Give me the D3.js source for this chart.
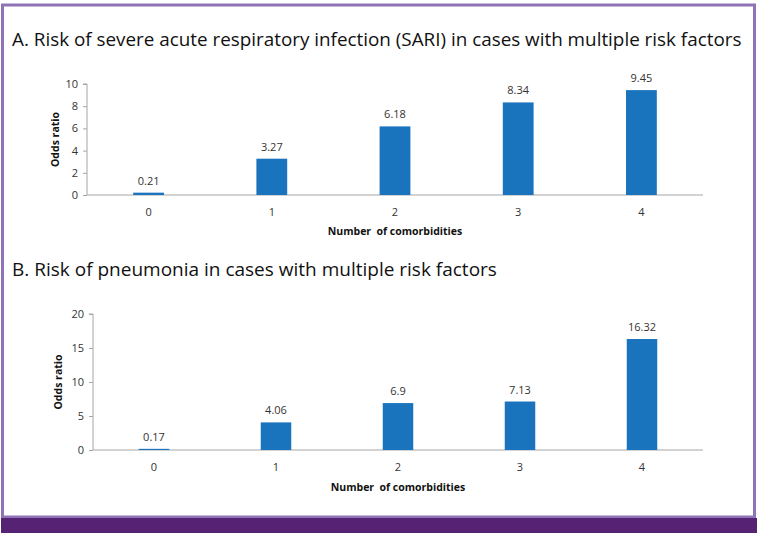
<!DOCTYPE html>
<html><head><meta charset="utf-8">
<script src="https://cdn.jsdelivr.net/npm/d3@7"></script>
<style>
html,body{margin:0;padding:0;background:#fff;}
svg{display:block;}
</style></head>
<body>
<script>
const categories = ["0","1","2","3","4"];
const sariValues = [0.21, 3.27, 6.18, 8.34, 9.45];
const pneumoniaValues = [0.17, 4.06, 6.9, 7.13, 16.32];
const sariTicks = [0,2,4,6,8,10];
const pneumoniaTicks = [0,5,10,15,20];
const titleA = "A. Risk of severe acute respiratory infection (SARI) in cases with multiple risk factors";
const titleB = "B. Risk of pneumonia in cases with multiple risk factors";
const xTitle = "Number\u00A0 of comorbidities";
const yTitle = "Odds ratio";

const W = 761, H = 538;
const svg = d3.select("body").append("svg").attr("width", W).attr("height", H);

// frame
svg.append("rect").attr("x",0).attr("y",0).attr("width",W).attr("height",H).attr("fill","#fff");
svg.append("rect").attr("x",2.5).attr("y",5).attr("width",752).attr("height",512)
  .attr("fill","none").attr("stroke","#8e74b6").attr("stroke-width",3);
svg.append("rect").attr("x",1).attr("y",518).attr("width",756).attr("height",15).attr("fill","#552274");

const font = "'Open Sans', 'Noto Sans', sans-serif";

function panel(opts){
  const {values, ticks, ymax, x0, x1, yTop, yBottom, title, titleY, tickLabelY, xTitleY, yTitleX, titleLen} = opts;
  const t = svg.append("text").attr("x",12).attr("y",titleY).text(title)
    .attr("font-family",font).attr("font-size",20).attr("fill","#111");
  const natural = t.node().getComputedTextLength();
  t.attr("font-size", Math.min(20, 20 * titleLen / natural));
  const x = d3.scaleBand().domain(categories).range([x0,x1]).paddingInner(0.75).paddingOuter(0.375);
  const y = d3.scaleLinear().domain([0,ymax]).range([yBottom,yTop]);
  const g = svg.append("g");
  // y axis
  const ya = g.append("g").attr("transform",`translate(${x0},0)`)
    .call(d3.axisLeft(y).tickValues(ticks).tickSize(4).tickPadding(5).tickFormat(d3.format("d")));
  ya.select(".domain").attr("stroke","#a6a6a6").attr("d",`M-4,${y(ymax)}H0V${y(0)}`);
  ya.selectAll(".tick line").attr("stroke","#a6a6a6");
  ya.selectAll(".tick text").attr("font-family",font).attr("font-size",11).attr("fill","#333");
  // x axis
  const xa = g.append("g").attr("transform",`translate(0,${yBottom})`)
    .call(d3.axisBottom(x).tickSize(0).tickPadding(0));
  xa.select(".domain").attr("stroke","#a6a6a6").attr("d",`M${x0},0H${x1}`);
  xa.selectAll(".tick text").attr("font-family",font).attr("font-size",11).attr("fill","#333")
    .attr("y", tickLabelY - yBottom).attr("dy","0.35em");
  // bars
  g.selectAll("rect.bar").data(values).join("rect").attr("class","bar")
    .attr("x",(d,i)=>x(categories[i])).attr("width",x.bandwidth())
    .attr("y",d=>y(d)).attr("height",d=>Math.max(0,y(0)-y(d)) ).attr("fill","#1a73bd");
  g.selectAll("text.val").data(values).join("text").attr("class","val")
    .attr("x",(d,i)=>x(categories[i])+x.bandwidth()/2).attr("y",d=>y(d)-8)
    .attr("text-anchor","middle").attr("font-family",font).attr("font-size",11).attr("fill","#333")
    .text(d=>d);
  // axis titles
  svg.append("text").attr("x",(x0+x1)/2).attr("y",xTitleY).attr("text-anchor","middle")
    .attr("font-family",font).attr("font-size",10.5).attr("font-weight","bold").attr("fill","#111")
    .attr("dy","0.35em").text(xTitle);
  svg.append("text").attr("transform",`translate(${yTitleX},${(yTop+yBottom)/2}) rotate(-90)`)
    .attr("text-anchor","middle").attr("dy","0.35em")
    .attr("font-family",font).attr("font-size",10.5).attr("font-weight","bold").attr("fill","#111")
    .text(yTitle);
}

panel({values:sariValues, ticks:sariTicks, ymax:10, x0:87, x1:703, yTop:84, yBottom:195,
  title:titleA, titleY:46, tickLabelY:212, xTitleY:231, yTitleX:55, titleLen:730});
panel({values:pneumoniaValues, ticks:pneumoniaTicks, ymax:20, x0:93, x1:703, yTop:314, yBottom:450,
  title:titleB, titleY:276, tickLabelY:467, xTitleY:487, yTitleX:58, titleLen:485});
</script>
</body></html>
